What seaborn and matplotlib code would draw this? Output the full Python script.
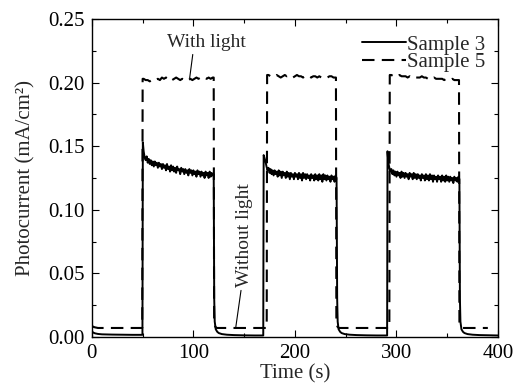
import numpy as np
import pandas as pd
import seaborn as sns
import matplotlib.pyplot as plt
from matplotlib.ticker import MultipleLocator, FormatStrFormatter

# ---- data ----
# Sample 3 (solid): dark parts, spikes and 1-s samples under light
s3_dark0_t = [0, 1, 3, 6, 10, 20, 30, 40, 49.8]
s3_dark0_v = [0.0045, 0.0035, 0.0028, 0.0023, 0.002, 0.0018, 0.0017, 0.0016, 0.0016]
s3_spike_t = [50.2, 169.2, 291.2]
s3_spike_v = [0.153, 0.143, 0.146]
s3_on_start = [51, 171, 292]
s3_on1 = [0.146, 0.141, 0.139, 0.142, 0.137, 0.140, 0.136, 0.139, 0.135, 0.138,
          0.134, 0.138, 0.135, 0.137, 0.133, 0.137, 0.134, 0.136, 0.132, 0.136,
          0.133, 0.135, 0.131, 0.136, 0.132, 0.134, 0.130, 0.135, 0.131, 0.134,
          0.130, 0.133, 0.129, 0.134, 0.131, 0.132, 0.128, 0.133, 0.130, 0.132,
          0.128, 0.132, 0.129, 0.131, 0.127, 0.132, 0.129, 0.131, 0.127, 0.131,
          0.128, 0.130, 0.126, 0.131, 0.128, 0.130, 0.126, 0.130, 0.127, 0.129,
          0.125, 0.130, 0.127, 0.129, 0.125, 0.130, 0.126, 0.129, 0.127, 0.128]
s3_on2 = [0.138, 0.134, 0.131, 0.133, 0.129, 0.132, 0.128, 0.131, 0.127, 0.131,
          0.128, 0.130, 0.126, 0.131, 0.127, 0.130, 0.125, 0.130, 0.127, 0.129,
          0.125, 0.130, 0.126, 0.129, 0.124, 0.129, 0.126, 0.128, 0.124, 0.129,
          0.126, 0.128, 0.124, 0.129, 0.125, 0.128, 0.123, 0.129, 0.125, 0.128,
          0.124, 0.128, 0.125, 0.127, 0.123, 0.128, 0.125, 0.127, 0.123, 0.128,
          0.124, 0.127, 0.123, 0.128, 0.124, 0.127, 0.122, 0.128, 0.124, 0.127,
          0.123, 0.127, 0.124, 0.126, 0.122, 0.127, 0.124, 0.126, 0.122, 0.127, 0.125]
s3_on3 = [0.137, 0.133, 0.130, 0.132, 0.128, 0.131, 0.127, 0.130, 0.126, 0.130,
          0.127, 0.129, 0.125, 0.130, 0.126, 0.129, 0.125, 0.129, 0.126, 0.128,
          0.124, 0.129, 0.126, 0.128, 0.124, 0.129, 0.125, 0.128, 0.124, 0.128,
          0.125, 0.127, 0.123, 0.128, 0.125, 0.127, 0.123, 0.128, 0.124, 0.127,
          0.123, 0.128, 0.124, 0.127, 0.122, 0.127, 0.124, 0.126, 0.122, 0.127,
          0.124, 0.126, 0.122, 0.127, 0.123, 0.126, 0.122, 0.127, 0.123, 0.126,
          0.122, 0.126, 0.123, 0.125, 0.121, 0.126, 0.123, 0.125, 0.122, 0.126, 0.124]
s3_off1_t = [120.5, 121, 122, 123.5, 125, 128, 133, 140, 150, 160, 168.8]
s3_off2_t = [241.6, 242.1, 243, 244.5, 246, 249, 254, 261, 271, 281, 290.8]
s3_off3_t = [362.5, 363, 364, 365.5, 367, 370, 375, 382, 392, 400]
s3_off_v = [0.03, 0.012, 0.006, 0.004, 0.003, 0.0022, 0.0017, 0.0014, 0.0012, 0.0011, 0.0011]

# Sample 5 (dashed): 2-s samples under light
s5_dark0_t = [0, 1, 3, 6, 10, 49.6]
s5_dark0_v = [0.009, 0.008, 0.0075, 0.007, 0.007, 0.007]
s5_rise_t = [50.0, 172.6, 293.4]
s5_fall_t = [120.0, 240.4, 361.6]
s5_on_start = [51, 174, 295]
s5_on1 = [0.203, 0.202, 0.202, 0.201, 0.202, 0.203, 0.202, 0.203, 0.202, 0.204,
          0.203, 0.204, 0.203, 0.204, 0.202, 0.203, 0.204, 0.203, 0.202, 0.203,
          0.202, 0.201, 0.202, 0.203, 0.202, 0.203, 0.204, 0.203, 0.204, 0.203,
          0.204, 0.203, 0.204, 0.203, 0.204]
s5_on2 = [0.206, 0.205, 0.206, 0.205, 0.206, 0.205, 0.204, 0.205, 0.206, 0.205,
          0.206, 0.205, 0.204, 0.205, 0.206, 0.205, 0.205, 0.204, 0.205, 0.204,
          0.205, 0.204, 0.205, 0.205, 0.204, 0.205, 0.204, 0.205, 0.205, 0.204,
          0.205, 0.205, 0.204]
s5_on3 = [0.206, 0.205, 0.206, 0.205, 0.206, 0.205, 0.205, 0.205, 0.204, 0.205,
          0.204, 0.205, 0.204, 0.204, 0.204, 0.205, 0.204, 0.204, 0.203, 0.204,
          0.203, 0.204, 0.203, 0.203, 0.203, 0.203, 0.202, 0.203, 0.203, 0.202,
          0.203, 0.202, 0.202]
s5_off_dt = [0.4, 1.5, 3.0]
s5_off_v = [0.012, 0.008, 0.007]
s5_dark_end = [172.2, 293.0, 390.0]
s5_dark_v = 0.007


def build_s3():
    t = list(s3_dark0_t)
    v = list(s3_dark0_v)
    ons = [s3_on1, s3_on2, s3_on3]
    offs = [s3_off1_t, s3_off2_t, s3_off3_t]
    for i in range(3):
        t.append(s3_spike_t[i])
        v.append(s3_spike_v[i])
        t += list(np.arange(s3_on_start[i], s3_on_start[i] + len(ons[i])))
        v += ons[i]
        t += offs[i]
        v += s3_off_v[:len(offs[i])]
    return pd.DataFrame({'t': t, 'j': v})


def build_s5():
    t = list(s5_dark0_t)
    v = list(s5_dark0_v)
    ons = [s5_on1, s5_on2, s5_on3]
    for i in range(3):
        t.append(s5_rise_t[i])
        v.append(ons[i][0])
        t += list(np.arange(s5_on_start[i], s5_on_start[i] + 2 * len(ons[i]), 2))
        v += ons[i]
        t.append(s5_fall_t[i])
        v.append(ons[i][-1])
        t += [s5_fall_t[i] + d for d in s5_off_dt]
        v += s5_off_v
        t.append(s5_dark_end[i])
        v.append(s5_dark_v)
    return pd.DataFrame({'t': t, 'j': v})


df3 = build_s3()
df5 = build_s5()

sns.set_style('ticks')
plt.rcParams['font.family'] = ['Liberation Serif', 'DejaVu Serif']
plt.rcParams['font.size'] = 15

fig = plt.figure(figsize=(5.22, 3.89), dpi=100)
ax = fig.add_axes([0.176, 0.134, 0.778, 0.817])

sns.lineplot(data=df3, x='t', y='j', ax=ax, color='black', lw=1.4,
             estimator=None, sort=False, label='Sample 3')
sns.lineplot(data=df5, x='t', y='j', ax=ax, color='black', lw=1.5,
             estimator=None, sort=False, label='Sample 5')
ax.lines[1].set_dashes([6, 3.5])

ax.set_xlim(0, 400)
ax.set_ylim(0, 0.25)
ax.xaxis.set_major_locator(MultipleLocator(100))
ax.xaxis.set_minor_locator(MultipleLocator(50))
ax.yaxis.set_major_locator(MultipleLocator(0.05))
ax.yaxis.set_minor_locator(MultipleLocator(0.025))
ax.yaxis.set_major_formatter(FormatStrFormatter('%.2f'))
ax.tick_params(which='both', direction='in', top=True, right=True,
               labelsize=15, width=0.8, colors='black', pad=5)
ax.tick_params(which='major', length=5)
ax.tick_params(which='minor', length=3)
for s in ax.spines.values():
    s.set_linewidth(1.0)
    s.set_color('black')

ax.set_xlabel('Time (s)', fontsize=15, labelpad=1)
ax.set_ylabel('Photocurrent (mA/cm²)', fontsize=15, labelpad=9)

ax.annotate('With light', xy=(96.3, 0.2035), xytext=(113, 0.2314),
            ha='center', va='center', fontsize=14,
            arrowprops=dict(arrowstyle='-', lw=0.8, color='black',
                            shrinkA=0, shrinkB=0, relpos=(0.33, 0.0)))
ax.annotate('Without light', xy=(141.8, 0.0079), xytext=(150.7, 0.080),
            ha='center', va='center', fontsize=14, rotation=90,
            arrowprops=dict(arrowstyle='-', lw=0.8, color='black',
                            shrinkA=0, shrinkB=0, relpos=(0.3, 0.0)))

leg = ax.legend(loc='upper right', bbox_to_anchor=(0.983, 0.969),
                frameon=False, fontsize=15, handlelength=2.1,
                handletextpad=0.05, labelspacing=-0.1,
                borderaxespad=0.0, borderpad=0.3)

fig.savefig('out.png', dpi=100)
